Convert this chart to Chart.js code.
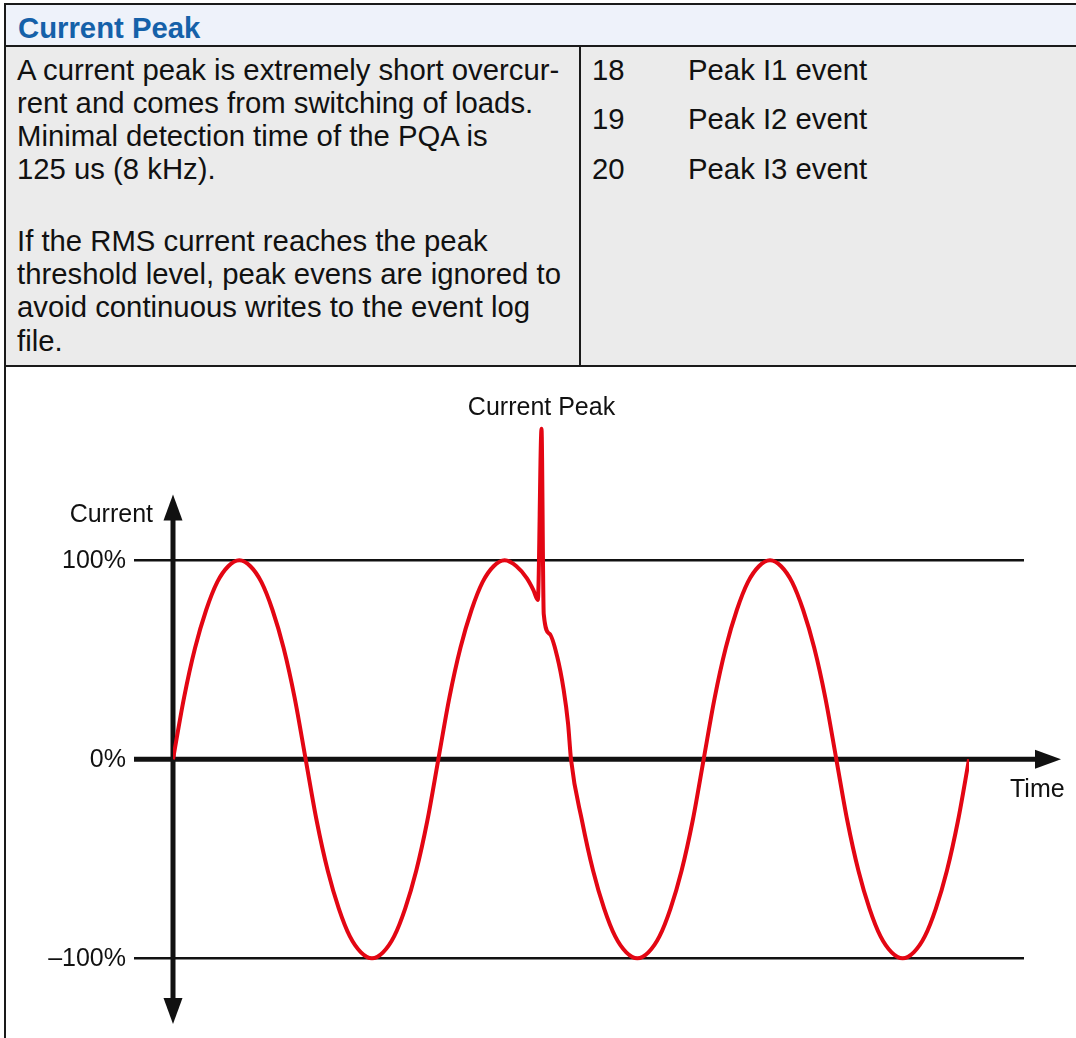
<!DOCTYPE html>
<html>
<head>
<meta charset="utf-8">
<title>Current Peak</title>
<script src="https://cdn.jsdelivr.net/npm/chart.js@4"></script>
<style>
  html, body { margin: 0; padding: 0; background: #fff; }
  body {
    width: 1076px; height: 1038px; overflow: hidden; position: relative;
    font-family: "Liberation Sans", Arial, sans-serif; color: #111;
  }
  .rule { position: absolute; background: #1a1a1a; }
  .cell { position: absolute; }
  #header { left: 6px; top: 5px; width: 1070px; height: 40px; background: #eef2fa; }
  #row { left: 6px; top: 47px; width: 1070px; height: 318px; background: #ebebeb; }
  .txt { position: absolute; font-size: 29.3px; line-height: 33.3px; white-space: nowrap; }
  #title { left: 18px; top: 11px; font-weight: bold; color: #1561a9; }
  #desc { left: 17px; top: 52.6px; }
  #desc p { margin: 0; }
  #desc p + p { margin-top: 38px; }
  #events { left: 592px; top: 44.5px; line-height: 49.5px; }
  #events span { display: inline-block; width: 96px; }
  #chartBox { position: absolute; left: 6px; top: 367px; width: 1070px; height: 671px; background: #fff; }
</style>
</head>
<body>
  <div class="cell" id="header"></div>
  <div class="cell" id="row"></div>

  <div class="rule" style="left:4px;top:3px;width:1072px;height:2px"></div>
  <div class="rule" style="left:4px;top:3px;width:2px;height:1035px"></div>
  <div class="rule" style="left:4px;top:45px;width:1072px;height:2px"></div>
  <div class="rule" style="left:579px;top:47px;width:2px;height:318px"></div>
  <div class="rule" style="left:4px;top:365px;width:1072px;height:2px"></div>

  <div class="txt" id="title">Current Peak</div>
  <div class="txt" id="desc">
    <p>A current peak is extremely short overcur-<br>rent and comes from switching of loads.<br>Minimal detection time of the PQA is<br>125 us (8 kHz).</p>
    <p>If the RMS current reaches the peak<br>threshold level, peak evens are ignored to<br>avoid continuous writes to the event log<br>file.</p>
  </div>
  <div class="txt" id="events">
    <div><span>18</span>Peak I1 event</div>
    <div><span>19</span>Peak I2 event</div>
    <div><span>20</span>Peak I3 event</div>
  </div>

  <div id="chartBox"><canvas id="grafico" width="1070" height="671"></canvas></div>

<script>
  // waveform: phase in degrees, current in % of nominal
  var phaseDeg = [
    0, 15, 30, 45, 60, 75, 90, 105, 120, 135, 150, 165,
    180, 195, 210, 225, 240, 255, 270, 285, 300, 315, 330, 345,
    360, 375, 390, 405, 420, 435, 450, 466, 480, 489, 495, 500,
    503, 511, 521, 530, 536, 540, 555, 570, 585, 600, 615,
    630, 645, 660, 675, 690, 705, 720, 735, 750, 765, 780, 795,
    810, 825, 840, 855, 870, 885, 900, 915, 930, 945, 960, 975,
    990, 1005, 1020, 1035, 1050, 1065, 1080
  ];
  var currentPct = [
    0, 31, 56, 75, 89, 97, 100, 97, 89, 75, 56, 31,
    0, -31, -56, -75, -89, -97, -100, -97, -89, -75, -56, -31,
    0, 31, 56, 75, 89, 97, 100, 97, 91, 85, 80, 166,
    73, 63, 52, 35, 18, 0, -31, -56, -75, -89, -97,
    -100, -97, -89, -75, -56, -31, 0, 31, 56, 75, 89, 97,
    100, 97, 89, 75, 56, 31, 0, -31, -56, -75, -89, -97,
    -100, -97, -89, -75, -56, -31, 0
  ];

  var tickValues = [100, 0, -100];
  var tickLabels = ["100%", "0%", "\u2013100%"];

  var peakPhase = 500;
  var peakValue = 166;
  var cycleEnd = 1080;

  var puntos = phaseDeg.map(function (p, i) {
    return { x: p, y: currentPct[i] };
  });

  var fuente = '25px "Liberation Sans", Arial, sans-serif';

  function flecha(ctx, tipX, tipY, dirX, dirY, largo, medio) {
    // triangle pointing in (dirX, dirY)
    var bx = tipX - dirX * largo, by = tipY - dirY * largo;
    ctx.beginPath();
    ctx.moveTo(tipX, tipY);
    ctx.lineTo(bx - dirY * medio, by + dirX * medio);
    ctx.lineTo(bx + dirY * medio, by - dirX * medio);
    ctx.closePath();
    ctx.fill();
  }

  var ejesPlugin = {
    id: "ejes",
    beforeDatasetsDraw: function (chart) {
      var ctx = chart.ctx;
      var sx = chart.scales.x, sy = chart.scales.y;
      var x0 = sx.getPixelForValue(0);
      var xFin = sx.getPixelForValue(cycleEnd);
      var y0 = sy.getPixelForValue(0);
      ctx.save();
      ctx.strokeStyle = "#111";
      ctx.fillStyle = "#111";

      // 100% and -100% levels
      ctx.lineWidth = 2.5;
      [100, -100].forEach(function (v) {
        var yy = sy.getPixelForValue(v);
        ctx.beginPath();
        ctx.moveTo(x0 - 39, yy);
        ctx.lineTo(xFin + 55, yy);
        ctx.stroke();
      });

      // time axis
      ctx.lineWidth = 5;
      ctx.beginPath();
      ctx.moveTo(x0 - 39, y0);
      ctx.lineTo(xFin + 70, y0);
      ctx.stroke();
      flecha(ctx, xFin + 92, y0, 1, 0, 26, 9.5);

      // current axis
      var yTop = sy.getPixelForValue(133);
      var yBot = sy.getPixelForValue(-133);
      ctx.beginPath();
      ctx.moveTo(x0, yTop + 20);
      ctx.lineTo(x0, yBot - 20);
      ctx.stroke();
      flecha(ctx, x0, yTop, 0, -1, 26, 9.5);
      flecha(ctx, x0, yBot, 0, 1, 26, 9.5);
      ctx.restore();
    },
    afterDatasetsDraw: function (chart) {
      var ctx = chart.ctx;
      var sx = chart.scales.x, sy = chart.scales.y;
      var x0 = sx.getPixelForValue(0);
      var xFin = sx.getPixelForValue(cycleEnd);
      ctx.save();
      ctx.font = fuente;
      ctx.fillStyle = "#111";
      ctx.textBaseline = "middle";

      ctx.textAlign = "right";
      tickValues.forEach(function (v, i) {
        ctx.fillText(tickLabels[i], x0 - 47, sy.getPixelForValue(v) + 1);
      });
      ctx.fillText("Current", x0 - 20, sy.getPixelForValue(122.5));

      ctx.textAlign = "left";
      ctx.fillText("Time", xFin + 41, sy.getPixelForValue(0) + 31);

      ctx.textAlign = "center";
      ctx.fillText("Current Peak", sx.getPixelForValue(peakPhase), sy.getPixelForValue(peakValue) - 21);
      ctx.restore();
    }
  };

  var ctxGrafico = document.getElementById("grafico");
  new Chart(ctxGrafico, {
    type: "line",
    data: {
      datasets: [{
        label: "Current",
        data: puntos,
        borderColor: "#e30613",
        borderWidth: 4,
        pointRadius: 0,
        fill: false,
        cubicInterpolationMode: "monotone"
      }]
    },
    options: {
      responsive: false,
      animation: false,
      events: [],
      layout: { padding: { left: 167, right: 107, top: 34, bottom: 10 } },
      plugins: {
        legend: { display: false },
        tooltip: { enabled: false }
      },
      scales: {
        x: { type: "linear", min: 0, max: 1080, display: false },
        y: { type: "linear", min: -135, max: 180, display: false }
      }
    },
    plugins: [ejesPlugin]
  });
</script>
</body>
</html>
